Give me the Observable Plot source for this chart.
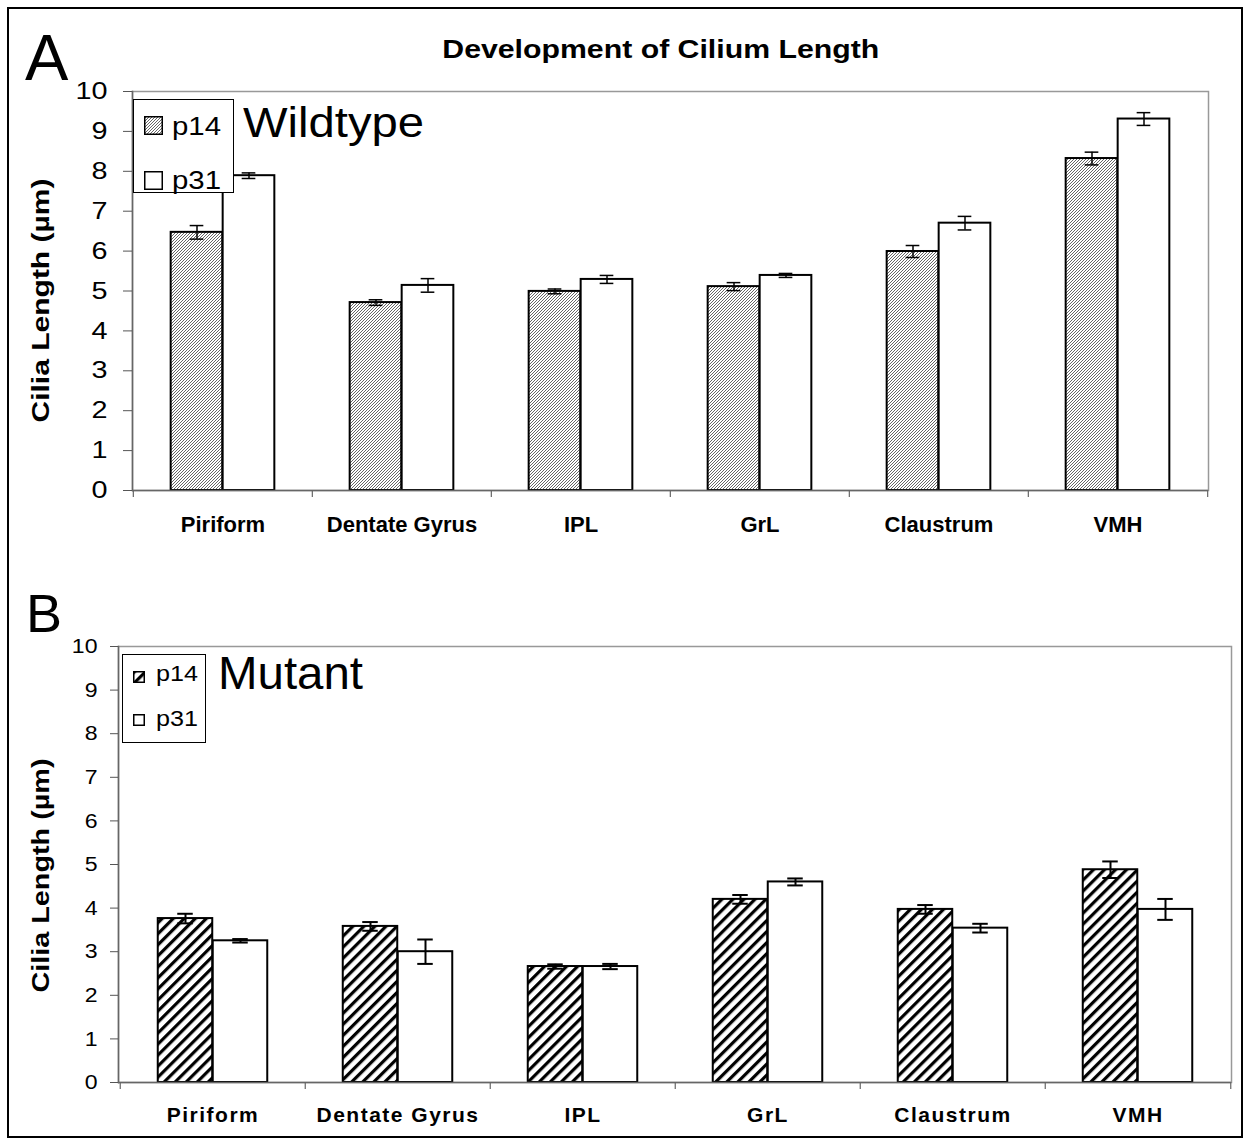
<!DOCTYPE html>
<html><head><meta charset="utf-8">
<script src="https://cdn.jsdelivr.net/npm/d3@7"></script>
<script src="https://cdn.jsdelivr.net/npm/@observablehq/plot@0.6"></script>
<style>
body{margin:0;background:#fff;font-family:"Liberation Sans",Arial,sans-serif;}
#fig{position:relative;width:1250px;height:1145px;overflow:hidden;background:#fff;}
#fig svg{position:absolute;left:0;overflow:visible;}
.abs{position:absolute;white-space:nowrap;line-height:1;color:#000;}
</style></head><body><div id="fig"></div>
<script>
// ---- data ----
const regions = ["Piriform", "Dentate Gyrus", "IPL", "GrL", "Claustrum", "VMH"];
const seriesNames = ["p14", "p31"];
const yTicks = [0,1,2,3,4,5,6,7,8,9,10];

const wildP14    = [6.47, 4.71, 4.99, 5.11, 5.99, 8.32];
const wildP14Err = [0.17, 0.07, 0.06, 0.10, 0.15, 0.16];
const wildP31    = [7.89, 5.14, 5.29, 5.39, 6.70, 9.31];
const wildP31Err = [0.07, 0.17, 0.10, 0.05, 0.17, 0.16];

const mutP14    = [3.76, 3.58, 2.66, 4.20, 3.97, 4.88];
const mutP14Err = [0.11, 0.10, 0.05, 0.10, 0.10, 0.19];
const mutP31    = [3.25, 3.00, 2.66, 4.60, 3.54, 3.97];
const mutP31Err = [0.04, 0.28, 0.06, 0.08, 0.10, 0.24];

const chartTitle = "Development of Cilium Length";
const yTitle = "Cilia Length (µm)";

// ---- helpers ----
const fig = document.getElementById("fig");

function rows(v14, e14, v31, e31) {
  return regions.flatMap((r, i) => [
    {region: r, series: seriesNames[0], value: v14[i], err: e14[i]},
    {region: r, series: seriesNames[1], value: v31[i], err: e31[i]}
  ]);
}

function stretch(svg, sel, sx, letterSpacing) {
  d3.select(svg).selectAll(sel).each(function () {
    const x = +this.getAttribute("x") || 0, y = +this.getAttribute("y") || 0;
    const t = this.getAttribute("transform") || "";
    if (sx !== 1) this.setAttribute("transform", `${t} translate(${x},${y}) scale(${sx},1) translate(${-x},${-y})`);
    if (letterSpacing) this.style.letterSpacing = letterSpacing + "px";
  });
}

function addDefs(svg) {
  const defs = d3.select(svg).insert("defs", ":first-child");
  const a = defs.append("pattern").attr("id", "hatchA").attr("patternUnits", "userSpaceOnUse")
    .attr("width", 3).attr("height", 3);
  a.append("rect").attr("width", 3).attr("height", 3).attr("fill", "#fff");
  a.append("path").attr("d", "M-1,1 l2,-2 M0,3 l3,-3 M2,4 l2,-2").attr("stroke", "#333").attr("stroke-width", 0.75);
  const b = defs.append("pattern").attr("id", "hatchB").attr("patternUnits", "userSpaceOnUse")
    .attr("width", 7.8).attr("height", 7.8).attr("patternTransform", "rotate(45)");
  b.append("rect").attr("width", 7.8).attr("height", 7.8).attr("fill", "#fff");
  b.append("rect").attr("width", 3.2).attr("height", 7.8).attr("fill", "#000");
}

function panel(cfg) {
  const {data, top, height, mt, mb, ml, mr, barW, capW, hatch, errW, barSW,
         tickFont, tickSize, tickPad, tickSx, xFont, xPad, xSpacing} = cfg;
  const band = (1250 - ml - mr) / regions.length, half = band / 2, off = barW / 2;
  const d14 = data.filter(d => d.series === seriesNames[0]);
  const d31 = data.filter(d => d.series === seriesNames[1]);
  const caps = (d, sign, key) => Plot.tickY(d, {
    x: "region", y: r => r.value + sign * r.err,
    insetLeft: half + key * off - capW / 2, insetRight: half - key * off - capW / 2,
    stroke: "#000", strokeWidth: errW
  });
  const errs = (d, key) => Plot.ruleX(d, {
    x: "region", y1: r => r.value - r.err, y2: r => r.value + r.err,
    dx: key * off, stroke: "#000", strokeWidth: errW
  });
  const svg = Plot.plot({
    width: 1250, height,
    marginTop: mt, marginBottom: mb, marginLeft: ml, marginRight: mr,
    style: {background: "transparent", color: "#000", fontFamily: "'Liberation Sans', Arial, sans-serif", overflow: "visible"},
    x: {domain: regions, padding: 0},
    y: {domain: [0, 10]},
    marks: [
      Plot.frame({stroke: "#999", strokeWidth: 1.5}),
      Plot.barY(d14, {x: "region", y: "value", fill: `url(#${hatch})`, stroke: "#000", strokeWidth: barSW,
                      insetLeft: half - barW, insetRight: half}),
      Plot.barY(d31, {x: "region", y: "value", fill: "#fff", stroke: "#000", strokeWidth: barSW,
                      insetLeft: half, insetRight: half - barW}),
      errs(d14, -1), errs(d31, 1),
      caps(d14, 1, -1), caps(d14, -1, -1), caps(d31, 1, 1), caps(d31, -1, 1),
      Plot.frame({anchor: "left", stroke: "#666", strokeWidth: 1.5}),
      Plot.ruleY([0], {stroke: "#666", strokeWidth: 1.5}),
      Plot.axisY(yTicks, {tickSize, tickPadding: tickPad, fontSize: tickFont, stroke: "#555", label: null}),
      Plot.axisX({tickSize: 0, tickPadding: xPad, fontSize: xFont, fontWeight: "bold", label: null}),
      Plot.ruleX(regions, {x: r => r, dx: -half, y1: 0, y2: 0, insetBottom: -7, stroke: "#666", strokeWidth: 1.2}),
      Plot.ruleX(regions.slice(-1), {x: r => r, dx: half, y1: 0, y2: 0, insetBottom: -7, stroke: "#666", strokeWidth: 1.2})
    ]
  });
  addDefs(svg);
  svg.style.top = top + "px";
  fig.appendChild(svg);
  stretch(svg, 'g[aria-label="y-axis tick label"] text', tickSx);
  stretch(svg, 'g[aria-label="x-axis tick label"] text', 1, xSpacing);
  return svg;
}

function label(txt, {x, baseline, size, bold = false, anchor = "start", width = null}) {
  const el = document.createElement("div");
  el.className = "abs";
  el.textContent = txt;
  el.style.fontSize = size + "px";
  el.style.fontWeight = bold ? "bold" : "normal";
  el.style.top = (baseline - 0.8465 * size) + "px";
  el.style.left = "0px";
  fig.appendChild(el);
  const w = el.getBoundingClientRect().width;
  const sx = width ? width / w : 1;
  el.style.left = (anchor === "middle" ? x - w / 2 : x) + "px";
  el.style.transformOrigin = anchor === "middle" ? "50% 0" : "0 0";
  el.style.transform = `scaleX(${sx})`;
  return el;
}

function vlabel(txt, cx, cy, size, len) {
  const el = document.createElement("div");
  el.className = "abs";
  el.textContent = txt;
  el.style.fontSize = size + "px";
  el.style.fontWeight = "bold";
  el.style.left = "0px"; el.style.top = "0px";
  fig.appendChild(el);
  const w = el.getBoundingClientRect().width;
  el.style.left = (cx - w / 2) + "px";
  el.style.top = (cy - size / 2) + "px";
  el.style.transformOrigin = "50% 50%";
  el.style.transform = `rotate(-90deg) scaleX(${len / w})`;
}

function box(x, y, w, h, bw) {
  const el = document.createElement("div");
  el.className = "abs";
  Object.assign(el.style, {left: x + "px", top: y + "px", width: w + "px", height: h + "px",
    border: `${bw}px solid #000`, boxSizing: "border-box", background: "#fff"});
  fig.appendChild(el);
}

function swatch(x, y, s, fill, sw) {
  const ns = "http://www.w3.org/2000/svg";
  const svg = document.createElementNS(ns, "svg");
  svg.setAttribute("width", s); svg.setAttribute("height", s);
  svg.style.position = "absolute"; svg.style.left = x + "px"; svg.style.top = y + "px";
  const r = document.createElementNS(ns, "rect");
  r.setAttribute("x", sw / 2); r.setAttribute("y", sw / 2);
  r.setAttribute("width", s - sw); r.setAttribute("height", s - sw);
  r.setAttribute("fill", fill); r.setAttribute("stroke", "#000"); r.setAttribute("stroke-width", sw);
  svg.appendChild(r);
  fig.appendChild(svg);
}

// ---- panels ----
panel({data: rows(wildP14, wildP14Err, wildP31, wildP31Err), top: 0, height: 560,
  mt: 91, mb: 70, ml: 132, mr: 42, barW: 52, capW: 14, hatch: "hatchA", errW: 1.5, barSW: 2,
  tickFont: 24, tickSize: 9, tickPad: 16, tickSx: 1.2, xFont: 22, xPad: 26, xSpacing: 0});

panel({data: rows(mutP14, mutP14Err, mutP31, mutP31Err), top: 560, height: 585,
  mt: 86, mb: 63, ml: 118, mr: 19, barW: 55, capW: 16, hatch: "hatchB", errW: 2, barSW: 2,
  tickFont: 21, tickSize: 8, tickPad: 13, tickSx: 1.1, xFont: 21, xPad: 25, xSpacing: 1.5});

// ---- annotations ----
label("A", {x: 25, baseline: 80, size: 65});
label("B", {x: 26, baseline: 632, size: 54});
label(chartTitle, {x: 661, baseline: 58, size: 26, bold: true, anchor: "middle", width: 437});
label("Wildtype", {x: 243, baseline: 138, size: 42, width: 181});
label("Mutant", {x: 218, baseline: 689, size: 46, width: 145});
vlabel(yTitle, 42, 300, 23, 244);
vlabel(yTitle, 42, 875, 23, 234);

// legend A
box(133, 99, 101, 94, 1.5);
swatch(144, 116, 19, "url(#hatchA)", 1.5);
swatch(144, 171, 19, "#fff", 1.5);
label(seriesNames[0], {x: 172, baseline: 135, size: 25, width: 49});
label(seriesNames[1], {x: 172, baseline: 189, size: 25, width: 49});

// legend B
box(122, 654, 84, 89, 1.2);
swatch(133, 671, 12, "url(#hatchB)", 1.5);
swatch(133, 714, 12, "#fff", 1.5);
label(seriesNames[0], {x: 156, baseline: 682, size: 22, width: 42});
label(seriesNames[1], {x: 156, baseline: 727, size: 22, width: 42});

// outer border
const border = document.createElement("div");
border.className = "abs";
Object.assign(border.style, {left: "7px", top: "7px", width: "1236px", height: "1131px",
  border: "2.5px solid #000", boxSizing: "border-box", pointerEvents: "none"});
fig.appendChild(border);
</script></body></html>
